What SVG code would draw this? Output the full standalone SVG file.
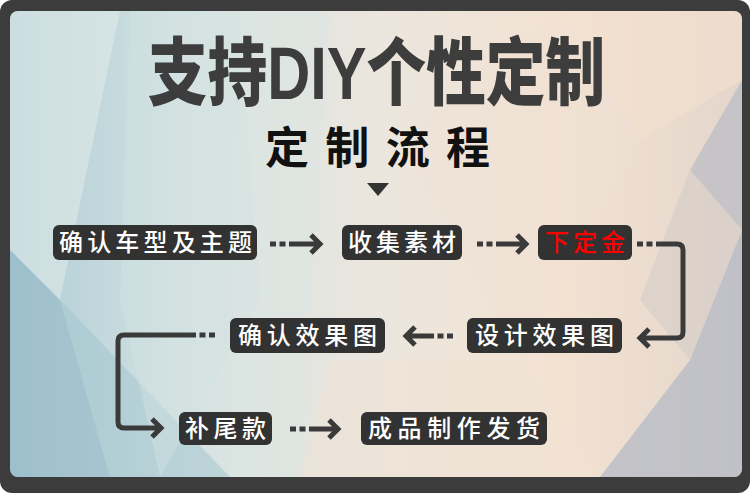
<svg xmlns="http://www.w3.org/2000/svg" width="750" height="493" viewBox="0 0 750 493">
  <defs>
    <linearGradient id="bg" x1="0" y1="0" x2="1" y2="0">
      <stop offset="0" stop-color="#aecdd6"/>
      <stop offset="0.25" stop-color="#d6e3e2"/>
      <stop offset="0.5" stop-color="#ebe6de"/>
      <stop offset="0.75" stop-color="#f3e2d2"/>
      <stop offset="1" stop-color="#e4d6cc"/>
    </linearGradient>
    <clipPath id="inner">
      <rect x="10" y="11" width="732" height="466" rx="8"/>
    </clipPath>
    <style>
      .box { fill: #323232; }
      .lbl { font-family: "Noto Sans CJK SC", "Noto Sans", sans-serif; font-size: 24px; fill: #ffffff; font-weight: 500; }
      .ttl { font-family: "Liberation Sans", "Noto Sans CJK SC", sans-serif; }
      .conn { stroke: #3a3a3a; stroke-width: 5; fill: none; stroke-linejoin: miter; }
      .dash { stroke-dasharray: 6 3.5; }
    </style>
  </defs>

  <!-- frame -->
  <rect x="0" y="0" width="750" height="493" rx="12" fill="#3c3c3c"/>
  <g clip-path="url(#inner)">
    <rect x="10" y="11" width="732" height="466" fill="url(#bg)"/>
    <polygon points="10,11 120,11 60,300 10,250" fill="#dfe9e8" opacity="0.6"/>
    <polygon points="10,250 60,300 110,477 10,477" fill="#8fb5c5" opacity="0.55"/>
    <polygon points="60,300 230,477 110,477" fill="#9fc4cd" opacity="0.5"/>
    <polygon points="130,11 240,11 260,300 160,477 120,300" fill="#d2e2e3" opacity="0.45"/>
    <polygon points="240,11 330,11 300,477 230,477" fill="#dde6e3" opacity="0.4"/>
    <polygon points="560,11 742,11 742,80 640,140" fill="#f4e0cf" opacity="0.6"/>
    <polygon points="742,80 742,230 690,170" fill="#b9bcc6" opacity="0.7"/>
    <polygon points="742,230 742,477 600,477 690,360" fill="#b0b8c5" opacity="0.7"/>
    <polygon points="690,170 742,230 690,360 640,300" fill="#d3cdc8" opacity="0.6"/>
    <polygon points="400,140 560,11 640,140 520,360" fill="#eee1d4" opacity="0.4"/>
    <polygon points="330,360 520,360 600,477 300,477" fill="#efe1d3" opacity="0.5"/>
  </g>

  <!-- titles -->
  <text class="ttl" x="148" y="99" textLength="457" lengthAdjust="spacingAndGlyphs" font-size="74" font-weight="900" fill="#3d3d3d">支持DIY个性定制</text>
  <text class="ttl" x="265" y="164" textLength="225" lengthAdjust="spacing" font-size="44" font-weight="700" fill="#111111">定制流程</text>
  <polygon points="367,183 389,183 378,196" fill="#333333"/>

  <!-- connectors -->
  <g id="connectors">
    <path class="conn dash" d="M270,244 H292"/>
    <path class="conn" d="M292,244 H320 M311,235 L320,244 L311,253"/>
    <path class="conn dash" d="M477,244 H499"/>
    <path class="conn" d="M499,244 H526 M517,235 L526,244 L517,253"/>
    <path class="conn dash" d="M637,244 H659"/>
    <path class="conn" d="M659,244 H677 Q683,244 683,250 V332 Q683,338 677,338 H641 M649,329 L640,338 L649,347"/>
    <path class="conn dash" d="M453,336 H430"/>
    <path class="conn" d="M430,336 H406 M415,327 L406,336 L415,345"/>
    <path class="conn dash" d="M215,335 H196"/>
    <path class="conn" d="M196,335 H124 Q118,335 118,341 V422 Q118,428 124,428 H161 M152,419 L161,428 L152,437"/>
    <path class="conn dash" d="M290,429 H312"/>
    <path class="conn" d="M312,429 H338 M329,420 L338,429 L329,438"/>
  </g>

  <!-- nodes -->
  <g id="n1">
    <rect class="box" x="53" y="225" width="204" height="35" rx="6"/>
    <text class="lbl" x="59" y="251" textLength="193" lengthAdjust="spacing">确认车型及主题</text>
  </g>
  <g id="n2">
    <rect class="box" x="342" y="225" width="120" height="35" rx="6"/>
    <text class="lbl" x="348" y="251" textLength="108" lengthAdjust="spacing">收集素材</text>
  </g>
  <g id="n3">
    <rect class="box" x="538" y="225" width="94" height="35" rx="6"/>
    <text class="lbl" x="545" y="251" textLength="80" lengthAdjust="spacing" style="fill:#ff0000">下定金</text>
  </g>
  <g id="n4">
    <rect class="box" x="467" y="318" width="155" height="35" rx="6"/>
    <text class="lbl" x="475" y="344" textLength="139" lengthAdjust="spacing">设计效果图</text>
  </g>
  <g id="n5">
    <rect class="box" x="230" y="318" width="155" height="35" rx="6"/>
    <text class="lbl" x="238" y="344" textLength="139" lengthAdjust="spacing">确认效果图</text>
  </g>
  <g id="n6">
    <rect class="box" x="179" y="412" width="93" height="33" rx="6"/>
    <text class="lbl" x="185" y="437" textLength="81" lengthAdjust="spacing">补尾款</text>
  </g>
  <g id="n7">
    <rect class="box" x="361" y="412" width="186" height="33" rx="6"/>
    <text class="lbl" x="368" y="437" textLength="172" lengthAdjust="spacing">成品制作发货</text>
  </g>
</svg>
